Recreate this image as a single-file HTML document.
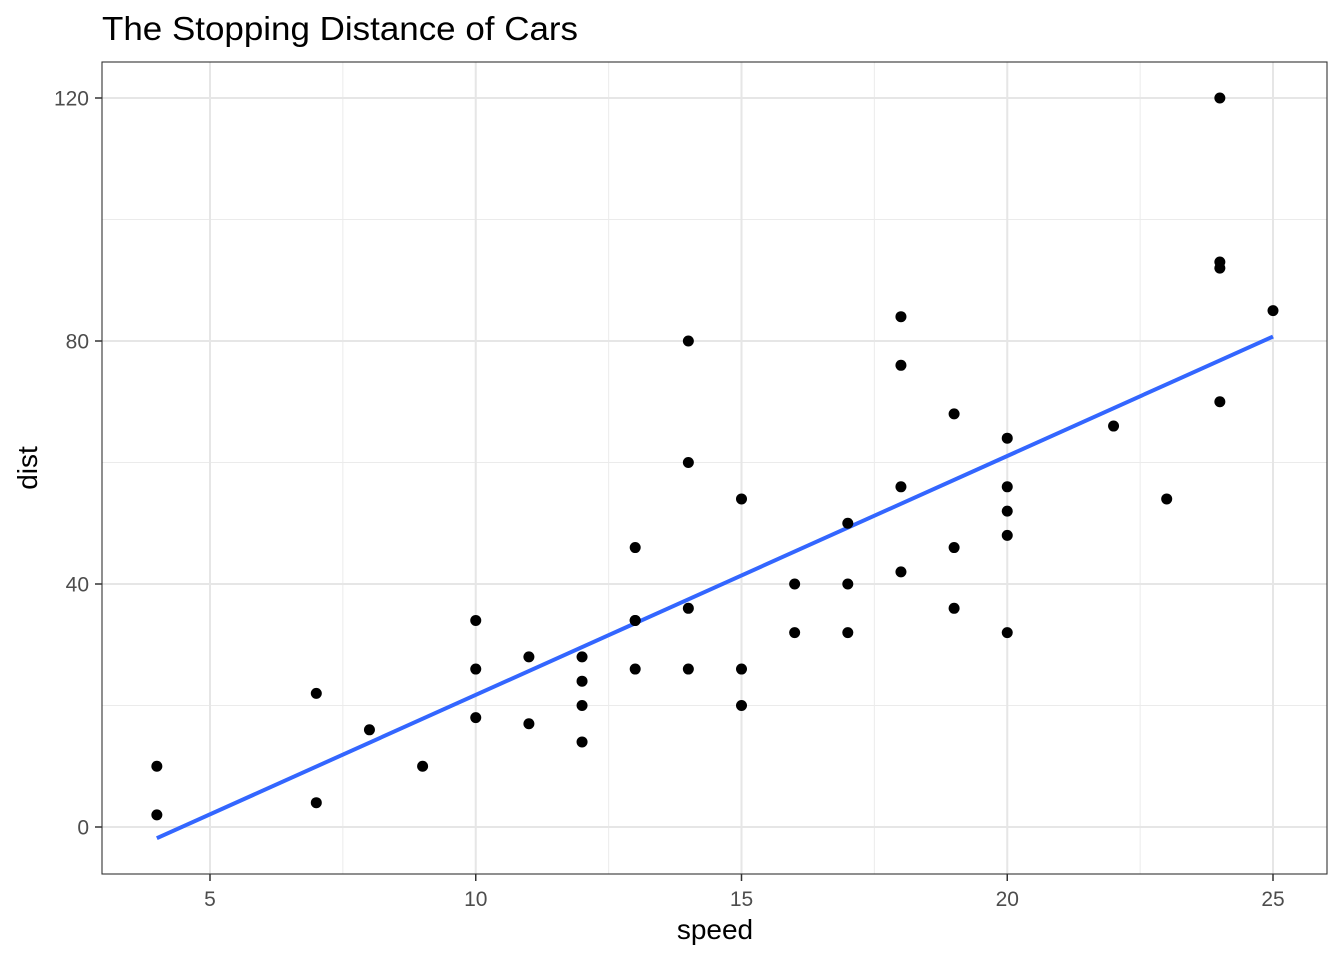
<!DOCTYPE html>
<html><head><meta charset="utf-8"><style>
body{margin:0;background:#fff;}
svg{display:block;font-family:"Liberation Sans",Arial,sans-serif;}
</style></head><body>
<svg id="chart" width="1344" height="960" xmlns="http://www.w3.org/2000/svg">
<rect width="1344" height="960" fill="#fff"/>
<text x="102" y="40" font-size="33" textLength="476" lengthAdjust="spacingAndGlyphs" fill="#000">The Stopping Distance of Cars</text>
<g id="grid"></g>
<g id="line"></g>
<g id="points"></g>
<rect x="102" y="62" width="1225" height="812" fill="none" stroke="#333" stroke-width="1.1"/>
<g id="ticks"></g>
<text x="715" y="939" font-size="28" text-anchor="middle">speed</text>
<text transform="translate(37,468) rotate(-90)" font-size="28" text-anchor="middle">dist</text>
</svg>
<script>
const speed=[4,4,7,7,8,9,10,10,10,11,11,12,12,12,12,13,13,13,13,14,14,14,14,15,15,15,16,16,17,17,17,18,18,18,18,19,19,19,20,20,20,20,20,22,23,24,24,24,24,25];
const dist=[2,10,4,22,16,10,18,26,34,17,28,14,20,24,28,26,34,34,46,26,36,60,80,20,26,54,32,40,32,40,50,42,56,76,84,36,46,68,32,48,52,56,64,66,54,70,92,93,120,85];
const xTicks=[5,10,15,20,25];
const yTicks=[0,40,80,120];
const xMinor=[7.5,12.5,17.5,22.5];
const yMinor=[20,60,100];
const NS="http://www.w3.org/2000/svg";
const X=v=>210+(v-5)*(1273-210)/20;
const Y=v=>827-v*(827-98)/120;
function mk(tag,attrs,parent){const e=document.createElementNS(NS,tag);for(const k in attrs)e.setAttribute(k,attrs[k]);document.getElementById(parent).appendChild(e);return e;}
xMinor.forEach(v=>{const e=mk('line',{x1:X(v),x2:X(v),y1:62,y2:874,stroke:'#ebebeb','stroke-width':1},'grid');

});
yMinor.forEach(v=>{const e=mk('line',{x1:102,x2:1327,y1:Y(v),y2:Y(v),stroke:'#ebebeb','stroke-width':1},'grid');

});
xTicks.forEach(v=>{const e=mk('line',{x1:X(v),x2:X(v),y1:62,y2:874,stroke:'#e6e6e6','stroke-width':2},'grid');


const t=mk('line',{x1:X(v),x2:X(v),y1:874,y2:881,stroke:'#333','stroke-width':1.5},'ticks');


const l=mk('text',{x:X(v),y:906,'font-size':21,fill:'#4d4d4d','text-anchor':'middle'},'ticks');l.textContent=v;

});
yTicks.forEach(v=>{const e=mk('line',{x1:102,x2:1327,y1:Y(v),y2:Y(v),stroke:'#e6e6e6','stroke-width':2},'grid');


const t=mk('line',{x1:95,x2:102,y1:Y(v),y2:Y(v),stroke:'#333','stroke-width':1.5},'ticks');


const l=mk('text',{x:89,y:Y(v)+7.5,'font-size':21,fill:'#4d4d4d','text-anchor':'end'},'ticks');l.textContent=v;

});
const n=speed.length,mx=speed.reduce((a,b)=>a+b)/n,my=dist.reduce((a,b)=>a+b)/n;
let sxy=0,sxx=0;for(let i=0;i<n;i++){sxy+=(speed[i]-mx)*(dist[i]-my);sxx+=(speed[i]-mx)**2;}
const b=sxy/sxx,a=my-b*mx,x0=Math.min(...speed),x1=Math.max(...speed);
const ln=mk('line',{x1:X(x0),y1:Y(a+b*x0),x2:X(x1),y2:Y(a+b*x1),stroke:'#3366ff','stroke-width':4},'line');


speed.forEach((s,i)=>{const c=mk('circle',{cx:X(s),cy:Y(dist[i]),r:5.5,fill:'#000'},'points');

});
</script>
</body></html>
